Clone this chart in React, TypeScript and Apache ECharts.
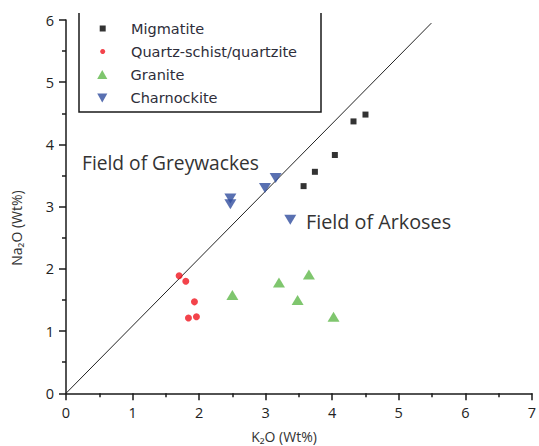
import React, { useEffect, useRef } from "react";
import * as echarts from "echarts";

// K2O (x) and Na2O (y), Wt%
const migmatite: number[][] = [
  [4.5, 4.48],
  [4.32, 4.37],
  [4.04, 3.83],
  [3.74, 3.56],
  [3.57, 3.33],
];
const quartzSchist: number[][] = [
  [1.7, 1.89],
  [1.8, 1.8],
  [1.93, 1.47],
  [1.84, 1.21],
  [1.96, 1.23],
];
const granite: number[][] = [
  [2.5, 1.58],
  [3.2, 1.78],
  [3.65, 1.91],
  [3.48, 1.5],
  [4.02, 1.23],
];
const charnockite: number[][] = [
  [2.47, 3.13],
  [2.47, 3.04],
  [2.99, 3.3],
  [3.15, 3.46],
  [3.37, 2.79],
];
const dividingLine: number[][] = [
  [0, 0],
  [5.49, 5.95],
];
const seriesNames = ["Migmatite", "Quartz-schist/quartzite", "Granite", "Charnockite"];
const xTicks = [0, 7, 1];
const yTicks = [0, 6, 1];

export default function App() {
  const ref = useRef<HTMLDivElement>(null);
  useEffect(() => {
    if (!ref.current) return;
    const chart = echarts.init(ref.current, null, { renderer: "svg" });
    const axisFont = { fontFamily: "Open Sans", fontSize: 14.5, color: "#222" };
    const legendRows = [28.5, 51.5, 74.5, 98];
    const legendIcons = [
      "path://M0,0L10,0L10,10L0,10Z",
      "circle",
      "path://M5,0L10,8.7L0,8.7Z",
      "path://M0,0L10,0L5,8.7Z",
    ];
    const legendSizes = [6, 5, 11, 11];
    const iconCenter = 102.7;
    const textStart = 131;
    const legends = seriesNames.map((n, i) => {
      const w = legendSizes[i];
      const left = iconCenter - w / 2;
      const pad = textStart - (left + w + 5);
      return {
        data: [{ name: n, icon: legendIcons[i] }],
        left,
        top: legendRows[i] - 8,
        padding: 0,
        itemWidth: w,
        itemHeight: legendIcons[i].indexOf("8.7") >= 0 ? w * 0.8 : w,
        itemGap: 0,
        textStyle: {
          fontFamily: "DejaVu Sans",
          fontSize: 14.5,
          color: "#2e2e3a",
          lineHeight: 16,
          padding: [0, 0, 0, pad],
        },
        selectedMode: false,
      };
    });
    chart.setOption({
      animation: false,
      backgroundColor: "#fff",
      grid: { left: 66, right: 3.3, top: 20, bottom: 52.7, containLabel: false },
      legend: legends,
      xAxis: {
        type: "value",
        min: xTicks[0],
        max: xTicks[1],
        interval: xTicks[2],
        splitLine: { show: false },
        axisLine: { show: true, lineStyle: { color: "#1a1a1a", width: 1.5 } },
        axisTick: { show: true, length: 7, lineStyle: { color: "#1a1a1a", width: 1.5 } },
        minorTick: { show: true, splitNumber: 2, length: 4, lineStyle: { color: "#1a1a1a", width: 1.5 } },
        axisLabel: { ...axisFont, margin: 12 },
      },
      yAxis: {
        type: "value",
        min: yTicks[0],
        max: yTicks[1],
        interval: yTicks[2],
        splitLine: { show: false },
        axisLine: { show: true, lineStyle: { color: "#1a1a1a", width: 1.5 } },
        axisTick: { show: true, length: 7, lineStyle: { color: "#1a1a1a", width: 1.5 } },
        minorTick: { show: true, splitNumber: 2, length: 4, lineStyle: { color: "#1a1a1a", width: 1.5 } },
        axisLabel: { ...axisFont, margin: 12 },
      },
      graphic: [
        {
          type: "polyline",
          shape: { points: [[79, 13], [79, 112], [321, 112], [321, 13]] },
          style: { stroke: "#1a1a1a", lineWidth: 1.5, fill: null },
          z: 5,
        },
        {
          type: "text",
          style: {
            text: "Field of Greywackes",
            x: 82,
            y: 162,
            verticalAlign: "middle",
            font: '19.2px "Open Sans"',
            fill: "#333",
          },
        },
        {
          type: "text",
          style: {
            text: "Field of Arkoses",
            x: 306,
            y: 221,
            verticalAlign: "middle",
            font: '19.8px "Open Sans"',
            fill: "#333",
          },
        },
        {
          type: "text",
          style: {
            text: "K₂O (Wt%)",
            x: 284,
            y: 436,
            align: "center",
            verticalAlign: "middle",
            font: '14px "Open Sans"',
            fill: "#333",
          },
        },
        {
          type: "text",
          x: 16,
          y: 228,
          rotation: Math.PI / 2,
          style: {
            text: "Na₂O (Wt%)",
            x: 0,
            y: 0,
            align: "center",
            verticalAlign: "middle",
            font: '14px "Open Sans"',
            fill: "#333",
          },
        },
      ],
      series: [
        {
          name: "divider",
          type: "line",
          data: dividingLine,
          symbol: "none",
          lineStyle: { color: "#222", width: 1 },
          silent: true,
          z: 1,
        },
        {
          name: seriesNames[0],
          type: "scatter",
          data: migmatite,
          symbol: "rect",
          symbolSize: 6,
          itemStyle: { color: "#000" },
        },
        {
          name: seriesNames[1],
          type: "scatter",
          data: quartzSchist,
          symbol: "circle",
          symbolSize: 7,
          itemStyle: { color: "#f0141e" },
        },
        {
          name: seriesNames[2],
          type: "scatter",
          data: granite,
          symbol: "triangle",
          symbolSize: [12, 10],
          itemStyle: { color: "#5fb84a" },
        },
        {
          name: seriesNames[3],
          type: "scatter",
          data: charnockite,
          symbol: "triangle",
          symbolRotate: 180,
          symbolSize: [12, 10],
          itemStyle: { color: "#2f4c9e" },
        },
      ],
    });
    return () => chart.dispose();
  }, []);
  return (
    <div
      ref={ref}
      style={{ position: "fixed", left: 0, top: 0, width: 539, height: 446, background: "#fff" }}
    />
  );
}
